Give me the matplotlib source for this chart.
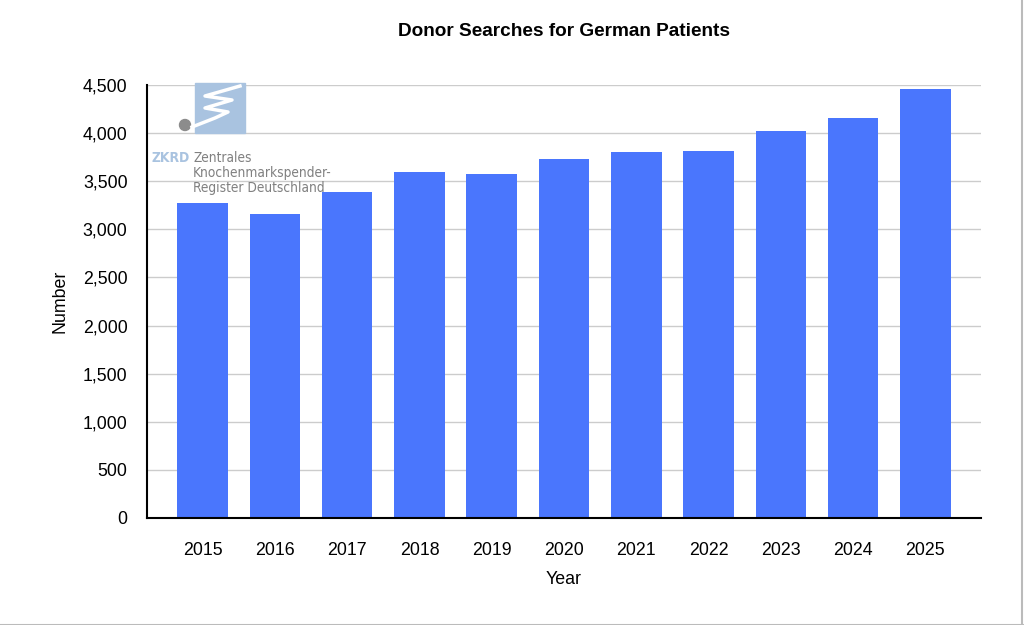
import matplotlib.pyplot as plt
from matplotlib.patches import Rectangle, Ellipse
from matplotlib.lines import Line2D

years = ["2015", "2016", "2017", "2018", "2019", "2020", "2021", "2022", "2023", "2024", "2025"]
searches = [3270, 3155, 3390, 3600, 3580, 3730, 3808, 3815, 4023, 4155, 4460]
y_ticks = [0, 500, 1000, 1500, 2000, 2500, 3000, 3500, 4000, 4500]

plt.rcParams['font.family'] = ['Liberation Sans', 'DejaVu Sans']

fig = plt.figure(figsize=(10.24, 6.25), dpi=100)
ax = fig.add_axes([147/1024, 1 - 518/625, (981-147)/1024, (518-85)/625])

x = range(len(years))
ax.bar(x, searches, width=0.7, color="#4a76fd", zorder=2)

ax.set_xlim(-0.77, len(years) - 0.23)
ax.set_ylim(0, 4500)
ax.set_xticks(list(x))
ax.set_xticklabels(years, fontsize=12.8)
ax.set_yticks(y_ticks)
ax.set_yticklabels([f"{v:,}" for v in y_ticks], fontsize=12.8)
ax.tick_params(length=0)
ax.tick_params(axis="y", pad=14)
ax.tick_params(axis="x", pad=17)
ax.grid(axis="y", color="#cccccc", linewidth=1, zorder=0)
ax.set_axisbelow(True)
for s in ["top", "right"]:
    ax.spines[s].set_visible(False)
ax.spines["left"].set_linewidth(1.5)
ax.spines["bottom"].set_linewidth(1.5)
ax.spines["bottom"].set_zorder(3)

ax.set_xlabel("Year", fontsize=12.8, labelpad=9)
ax.set_ylabel("Number", fontsize=12.8, labelpad=10)
fig.text(564/1024, 1 - 32/625, "Donor Searches for German Patients",
         ha="center", va="center", fontsize=13.7, fontweight="bold")

# ZKRD logo
W, H = 1024, 625
fig.patches.append(Rectangle((195/W, 1 - 133/H), 50/W, 50/H, transform=fig.transFigure,
                             color="#a9c3e0", zorder=5))
fig.patches.append(Ellipse((185/W, 1 - 125/H), 11/W, 11/H, transform=fig.transFigure,
                           color="#8c8c8c", zorder=5))
sx = [240, 205, 232, 205, 228, 215, 192]
sy = [86, 96, 100, 108, 112, 118, 127]
fig.lines.append(Line2D([v/W for v in sx], [1 - v/H for v in sy], transform=fig.transFigure,
                        color="white", linewidth=2.5, zorder=6))
logo_font = ['DejaVu Sans']
fig.text(152/W, 1 - 158/H, "ZKRD", family=logo_font, fontsize=10, fontweight="bold",
         color="#a9c3e0", va="center", fontstretch="condensed")
for i, line in enumerate(["Zentrales", "Knochenmarkspender-", "Register Deutschland"]):
    fig.text(193/W, 1 - (158 + 15*i)/H, line, family=logo_font, fontsize=9.8,
             color="#808080", va="center", fontstretch="condensed")

# thin frame on right and bottom edge
fig.lines.append(Line2D([0, 1], [0.5/H, 0.5/H], transform=fig.transFigure, color="#bbbbbb", linewidth=1.5))
fig.lines.append(Line2D([1 - 2/W, 1 - 2/W], [0, 1], transform=fig.transFigure, color="#bbbbbb", linewidth=1.5))

fig.savefig("out.png", dpi=100)
